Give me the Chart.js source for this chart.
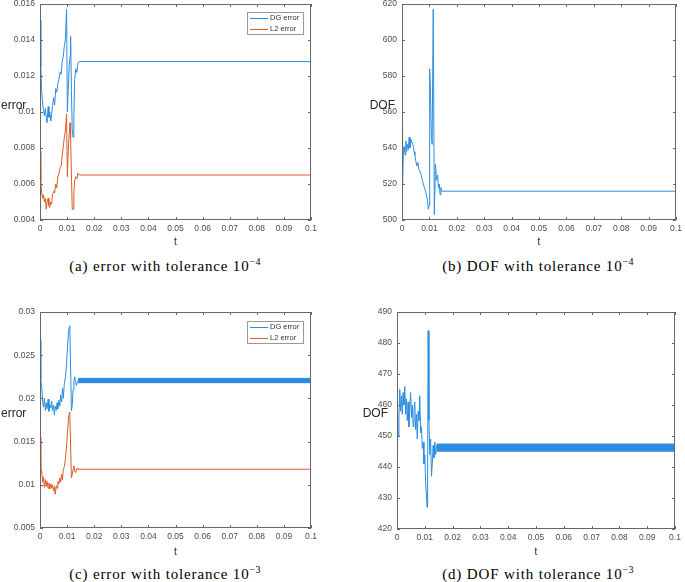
<!DOCTYPE html>
<html>
<head>
<meta charset="utf-8">
<script src="https://cdn.jsdelivr.net/npm/chart.js@4.4.1/dist/chart.umd.min.js"></script>
<style>
body { margin: 0; background: #fff; width: 685px; height: 582px; position: relative; overflow: hidden; font-family: "Liberation Sans", Arial, sans-serif; }
canvas { position: absolute; }
.ylab { position: absolute; font-size: 12px; line-height: 14px; color: #262626; }
.cap { position: absolute; width: 320px; text-align: center; font-family: "Liberation Serif", serif; font-size: 15px; line-height: 18px; letter-spacing: 0.85px; color: #000; white-space: nowrap; }
.cap sup { font-size: 10px; letter-spacing: 0.3px; }
</style>
</head>
<body>
<canvas id="chartA" width="330" height="250" style="left:0;top:0"></canvas>
<canvas id="chartB" width="325" height="250" style="left:360px;top:0"></canvas>
<canvas id="chartC" width="330" height="260" style="left:0;top:300px"></canvas>
<canvas id="chartD" width="325" height="260" style="left:360px;top:300px"></canvas>

<div class="ylab" style="left:1px;top:98px">error</div>
<div class="ylab" style="left:340px;top:98px;width:55px;text-align:right">DOF</div>
<div class="ylab" style="left:1px;top:406px">error</div>
<div class="ylab" style="left:333px;top:406px;width:55px;text-align:right">DOF</div>

<div class="cap" style="left:5px;top:253px">(a) error with tolerance 10<sup>−4</sup></div>
<div class="cap" style="left:378px;top:253px">(b) DOF with tolerance 10<sup>−4</sup></div>
<div class="cap" style="left:5px;top:561px">(c) error with tolerance 10<sup>−3</sup></div>
<div class="cap" style="left:378px;top:561px">(d) DOF with tolerance 10<sup>−3</sup></div>

<script>
// shared time ticks
const tTicks = [0, 0.01, 0.02, 0.03, 0.04, 0.05, 0.06, 0.07, 0.08, 0.09, 0.1];

// (a) error, tolerance 1e-4
const tA = [0, 0.0003, 0.0006, 0.001, 0.0013, 0.0016, 0.002, 0.0023, 0.0026, 0.003, 0.0033, 0.0036, 0.004, 0.0043, 0.0046, 0.005, 0.0054, 0.0058, 0.0062, 0.0066, 0.007, 0.0074, 0.0078, 0.0082, 0.0086, 0.009, 0.0094, 0.0098, 0.0101, 0.0104, 0.0108, 0.0111, 0.0113, 0.0116, 0.0119, 0.0122, 0.0125, 0.0128, 0.0132, 0.0136, 0.014, 0.0145, 0.1];
const dgA = [0.0151, 0.0125, 0.0112, 0.0104, 0.0101, 0.0098, 0.0102, 0.0097, 0.0094, 0.0103, 0.0097, 0.0100, 0.0095, 0.0099, 0.0103, 0.0108, 0.0104, 0.0113, 0.0111, 0.0116, 0.0118, 0.0122, 0.0121, 0.0128, 0.0131, 0.0137, 0.0141, 0.0157, 0.0100, 0.0112, 0.0126, 0.0131, 0.0142, 0.0112, 0.0090, 0.0086, 0.0098, 0.0118, 0.0124, 0.0122, 0.0127, 0.0128, 0.0128];
const l2A = [0.0078, 0.0062, 0.0055, 0.0052, 0.0054, 0.0050, 0.0052, 0.0046, 0.0050, 0.0052, 0.0048, 0.0047, 0.0050, 0.0049, 0.0054, 0.0056, 0.0055, 0.0060, 0.0058, 0.0064, 0.0066, 0.0069, 0.0070, 0.0076, 0.0081, 0.0086, 0.0090, 0.0099, 0.0064, 0.0078, 0.0088, 0.0094, 0.0086, 0.0065, 0.0046, 0.0046, 0.0056, 0.0062, 0.0064, 0.0063, 0.0066, 0.0065, 0.0065];
const errTicksA = [0.004, 0.006, 0.008, 0.01, 0.012, 0.014, 0.016];

// (b) DOF, tolerance 1e-4
const tB = [0, 0.0002, 0.0005, 0.0008, 0.0011, 0.0014, 0.0017, 0.002, 0.0023, 0.0026, 0.0029, 0.0032, 0.0035, 0.0038, 0.0041, 0.0044, 0.0047, 0.005, 0.0054, 0.0058, 0.0062, 0.0066, 0.007, 0.0074, 0.0078, 0.0082, 0.0086, 0.009, 0.0093, 0.0096, 0.0099, 0.0101, 0.0104, 0.0107, 0.011, 0.0114, 0.0118, 0.0122, 0.0126, 0.013, 0.0133, 0.0136, 0.0139, 0.0142, 0.0145, 0.1];
const dofB = [553, 520, 537, 541, 536, 544, 538, 542, 539, 546, 540, 545, 543, 543, 541, 538, 536, 533, 530, 532, 528, 527, 525, 522, 520, 518, 516, 513, 511, 506, 508, 584, 570, 548, 542, 617, 503, 531, 522, 525, 518, 520, 514, 518, 516, 516];
const dofTicksB = [500, 520, 540, 560, 580, 600, 620];

// (c) error, tolerance 1e-3
const tC = [0, 0.0003, 0.0006, 0.001, 0.0013, 0.0016, 0.002, 0.0023, 0.0026, 0.003, 0.0033, 0.0036, 0.004, 0.0043, 0.0046, 0.005, 0.0053, 0.0056, 0.006, 0.0063, 0.0066, 0.007, 0.0073, 0.0076, 0.008, 0.0083, 0.0086, 0.009, 0.0094, 0.0098, 0.0102, 0.0106, 0.011, 0.0113, 0.0116, 0.0119, 0.0122, 0.0125, 0.0128, 0.0131, 0.0134, 0.0137, 0.014, 0.1];
const dgC = [0.0268, 0.0222, 0.0215, 0.0196, 0.0190, 0.0200, 0.0186, 0.0195, 0.0188, 0.0199, 0.0185, 0.0193, 0.0189, 0.0197, 0.0186, 0.0192, 0.0181, 0.0191, 0.0186, 0.0195, 0.0188, 0.0198, 0.0191, 0.0204, 0.0196, 0.0212, 0.0200, 0.0218, 0.0224, 0.0240, 0.0262, 0.0280, 0.0284, 0.0235, 0.0186, 0.0192, 0.0210, 0.0220, 0.0225, 0.0220, 0.0215, 0.0218, 0.0221];
const l2C = [0.0155, 0.0120, 0.0116, 0.0103, 0.0109, 0.0097, 0.0106, 0.0098, 0.0104, 0.0096, 0.0102, 0.0095, 0.0101, 0.0096, 0.0100, 0.0093, 0.0098, 0.0089, 0.0099, 0.0096, 0.0104, 0.0101, 0.0108, 0.0103, 0.0112, 0.0106, 0.0118, 0.0121, 0.0130, 0.0145, 0.0163, 0.0180, 0.0184, 0.0145, 0.0108, 0.0112, 0.0118, 0.0122, 0.0116, 0.0114, 0.0117, 0.0119, 0.0118, 0.0118];
// DG error flips quickly between two levels after t = 0.014
const bandTC = [0.014, 0.1];
const bandC = [0.02182, 0.02232];
const errTicksC = [0.005, 0.01, 0.015, 0.02, 0.025, 0.03];

// (d) DOF, tolerance 1e-3
const tD = [0, 0.0002, 0.0004, 0.0007, 0.001, 0.0013, 0.0016, 0.0019, 0.0022, 0.0025, 0.0028, 0.0031, 0.0034, 0.0037, 0.004, 0.0043, 0.0046, 0.0049, 0.0052, 0.0055, 0.0058, 0.0061, 0.0064, 0.0067, 0.007, 0.0073, 0.0076, 0.0079, 0.0082, 0.0085, 0.0088, 0.0091, 0.0094, 0.0097, 0.01, 0.0103, 0.0106, 0.0108, 0.011, 0.0112, 0.0115, 0.0118, 0.0121, 0.0124, 0.0127, 0.013, 0.0133, 0.0136, 0.0139, 0.0142];
const dofD = [445, 458, 450, 456, 465, 458, 463, 457, 464, 460, 466, 457, 462, 455, 461, 453, 459, 464, 456, 460, 453, 458, 461, 452, 457, 449, 458, 455, 463, 451, 453, 446, 448, 441, 444, 435, 431, 427, 433, 484, 455, 444, 449, 437, 441, 447, 443, 448, 444, 447];
const bandTD = [0.0142, 0.1];
const bandD = [445.1, 447.4];
const dofTicksD = [420, 430, 440, 450, 460, 470, 480, 490];

const BLUE = "#2b8de0";
const RED = "#de5a26";
const AXIS = "#666";
const TICKTEXT = "#4d4d4d";

function pts(t, v) {
    return v.map((y, i) => ({ x: t[i], y: y }));
}

function line(label, t, v, color) {
    return { label: label, data: pts(t, v), borderColor: color, borderWidth: 1, pointRadius: 0, tension: 0, fill: false };
}

function band(t, lohi, color) {
    return [
        { data: [{ x: t[0], y: lohi[1] }, { x: t[1], y: lohi[1] }], borderColor: color, backgroundColor: color, borderWidth: 1, pointRadius: 0, fill: "+1" },
        { data: [{ x: t[0], y: lohi[0] }, { x: t[1], y: lohi[0] }], borderColor: color, borderWidth: 1, pointRadius: 0, fill: false }
    ];
}

// matlab style box with ticks pointing inwards, plus the small legend
const boxAxes = {
    id: "boxAxes",
    afterDatasetsDraw(chart, args, opts) {
        const { ctx, chartArea: a, scales } = chart;
        ctx.save();
        ctx.strokeStyle = AXIS;
        ctx.lineWidth = 1;
        ctx.strokeRect(a.left + 0.5, a.top + 0.5, a.width - 1, a.height - 1);
        const len = 3;
        ctx.beginPath();
        scales.x.ticks.forEach(t => {
            const px = Math.round(scales.x.getPixelForValue(t.value)) + 0.5;
            ctx.moveTo(px, a.bottom); ctx.lineTo(px, a.bottom - len);
            ctx.moveTo(px, a.top); ctx.lineTo(px, a.top + len);
        });
        scales.y.ticks.forEach(t => {
            const py = Math.round(scales.y.getPixelForValue(t.value)) + 0.5;
            ctx.moveTo(a.left, py); ctx.lineTo(a.left + len, py);
            ctx.moveTo(a.right, py); ctx.lineTo(a.right - len, py);
        });
        ctx.stroke();

        const lg = opts.legend;
        if (lg) {
            const items = chart.data.datasets.filter(d => d.label);
            ctx.fillStyle = "#fff";
            ctx.fillRect(lg.x, lg.y, lg.w, lg.h);
            ctx.strokeStyle = "#999";
            ctx.strokeRect(lg.x + 0.5, lg.y + 0.5, lg.w, lg.h);
            ctx.font = "7.5px 'Liberation Sans', Arial, sans-serif";
            ctx.textBaseline = "middle";
            items.forEach((d, i) => {
                const yy = lg.y + lg.h * (i * 2 + 1) / (items.length * 2);
                ctx.strokeStyle = d.borderColor;
                ctx.beginPath();
                ctx.moveTo(lg.x + 3, Math.round(yy) + 0.5);
                ctx.lineTo(lg.x + 21, Math.round(yy) + 0.5);
                ctx.stroke();
                ctx.fillStyle = "#333";
                ctx.fillText(d.label, lg.x + 23, yy);
            });
        }
        ctx.restore();
    }
};

function makeChart(id, datasets, yMin, yMax, yTicks, box) {
    const tickFont = { family: "'Liberation Sans', Arial, sans-serif", size: 8.5 };
    return new Chart(document.getElementById(id), {
        type: "line",
        data: { datasets: datasets },
        options: {
            responsive: false,
            animation: false,
            layout: { padding: { left: 0, right: box.right, top: box.top, bottom: 0 } },
            plugins: {
                legend: { display: false },
                tooltip: { enabled: false },
                boxAxes: { legend: box.legend }
            },
            scales: {
                x: {
                    type: "linear",
                    min: 0,
                    max: 0.1,
                    afterBuildTicks: s => { s.ticks = tTicks.map(v => ({ value: v })); },
                    afterFit: s => { s.height = box.xh; s.paddingLeft = 0; s.paddingRight = 0; },
                    grid: { display: false, drawTicks: false },
                    border: { display: false },
                    ticks: { padding: 4, font: tickFont, color: TICKTEXT, maxRotation: 0, autoSkip: false, callback: v => String(v) },
                    title: { display: true, text: "t", color: "#262626", font: { family: "'Liberation Sans', Arial, sans-serif", size: 10 }, padding: { top: 0, bottom: 2 } }
                },
                y: {
                    type: "linear",
                    min: yMin,
                    max: yMax,
                    afterBuildTicks: s => { s.ticks = yTicks.map(v => ({ value: v })); },
                    afterFit: s => { s.width = box.yw; s.paddingTop = 0; s.paddingBottom = 0; },
                    grid: { display: false, drawTicks: false },
                    border: { display: false },
                    ticks: { padding: 5, font: tickFont, color: TICKTEXT, autoSkip: false, callback: v => String(v) }
                }
            }
        },
        plugins: [boxAxes]
    });
}

makeChart("chartA",
    [line("DG error", tA, dgA, BLUE), line("L2 error", tA, l2A, RED)],
    0.004, 0.016, errTicksA,
    { yw: 40, right: 19, top: 4, xh: 30, legend: { x: 247, y: 12, w: 56, h: 22 } });

makeChart("chartB",
    [line(null, tB, dofB, BLUE)],
    500, 620, dofTicksB,
    { yw: 42, right: 9, top: 4, xh: 30 });

makeChart("chartC",
    [line("DG error", tC, dgC, BLUE), line("L2 error", tC, l2C, RED)].concat(band(bandTC, bandC, BLUE)),
    0.005, 0.03, errTicksC,
    { yw: 40, right: 19, top: 12, xh: 32, legend: { x: 247, y: 21, w: 56, h: 22 } });

makeChart("chartD",
    [line(null, tD, dofD, BLUE)].concat(band(bandTD, bandD, BLUE)),
    420, 490, dofTicksD,
    { yw: 37, right: 10, top: 12, xh: 31 });
</script>
</body>
</html>
